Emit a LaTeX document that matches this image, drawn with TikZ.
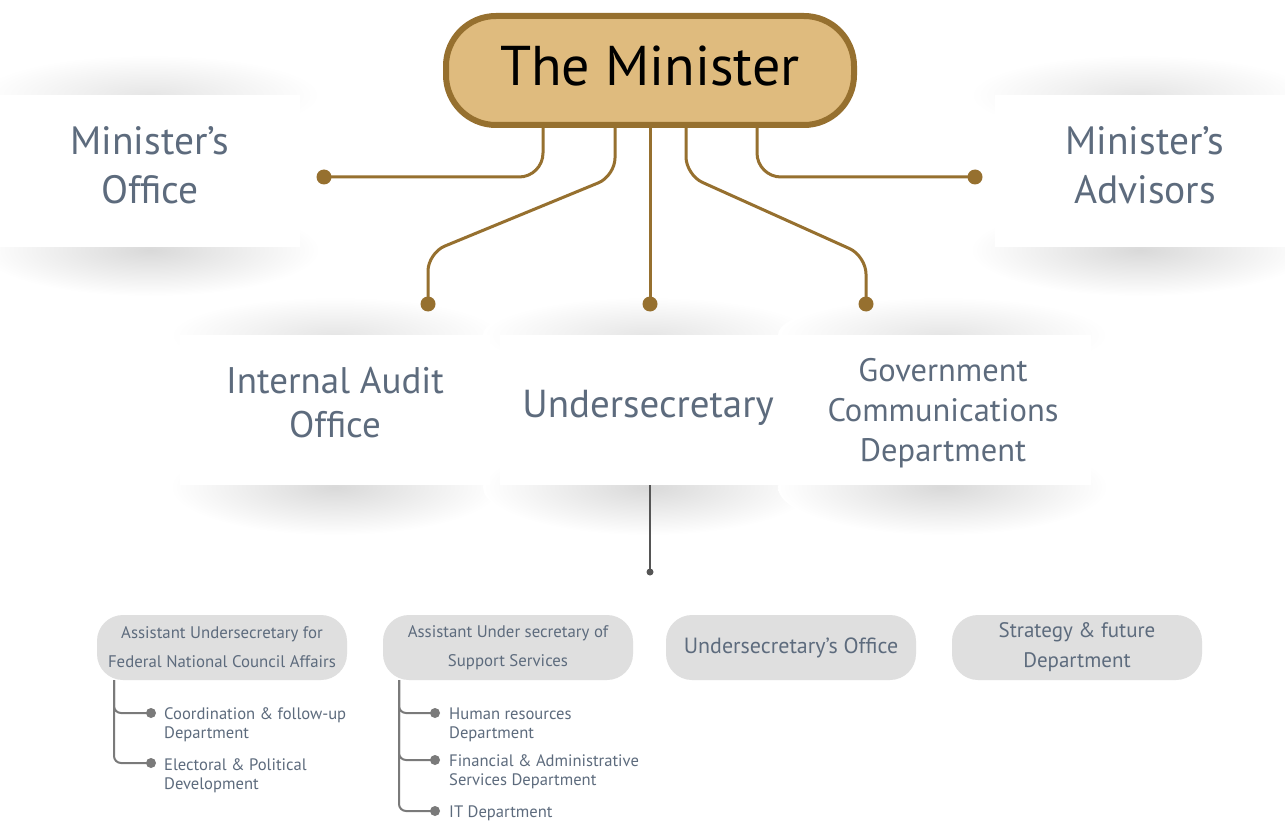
\documentclass[tikz,border=0pt]{standalone}
\usepackage{fontspec}
\setmainfont{PT Sans}
\definecolor{mbrown}{HTML}{96702F}
\definecolor{mtan}{HTML}{DFBB7E}
\definecolor{mtxt}{HTML}{5D6B7D}
\definecolor{mpill}{HTML}{DFDFDF}
\definecolor{mtree}{HTML}{7A7A7A}
\definecolor{mdark}{HTML}{555555}
\tikzset{
  topshade/.style={inner color=black!10, outer color=white},
  botshade/.style={inner color=black!15, outer color=white},
  card/.style={fill=white, inner sep=0pt, align=center, text=mtxt},
  cardtxt/.style={inner sep=0pt, align=center, text=mtxt},
  bigtxt/.style={font=\fontsize{39.5}{49}\selectfont},
  midtxt/.style={font=\fontsize{37}{44}\selectfont},
  undtxt/.style={font=\fontsize{39}{44}\selectfont},
  govtxt/.style={font=\fontsize{32.5}{40}\selectfont},
  pillbox/.style={fill=mpill, rounded corners=26pt, minimum width=250pt, minimum height=65pt, inner sep=0pt, align=center, text=mtxt},
  smalltxt/.style={font=\fontsize{16.8}{29}\selectfont},
  pilltxt/.style={font=\fontsize{22}{30}\selectfont},
  subtxt/.style={anchor=west, inner sep=0pt, align=left, text=mtxt, font=\fontsize{16.6}{19}\selectfont},
  bline/.style={draw=mbrown, line width=3pt},
  bdot/.style={circle, fill=mbrown, minimum size=15pt, inner sep=0pt},
  tline/.style={draw=mtree, line width=2pt, rounded corners=7pt},
  tdot/.style={circle, fill=mtree, minimum size=10pt, inner sep=0pt},
}
\begin{document}
\begin{tikzpicture}[x=1pt,y=-1pt]
\useasboundingbox (0,0) rectangle (1285,821);
\fill[white] (0,0) rectangle (1285,821);

% shadows of the top cards
\shade[topshade] (150,95) ellipse [x radius=170pt, y radius=40pt];
\shade[botshade] (150,250) ellipse [x radius=170pt, y radius=46pt];
\shade[topshade] (1140,95) ellipse [x radius=170pt, y radius=40pt];
\shade[botshade] (1140,250) ellipse [x radius=170pt, y radius=46pt];
% shadows of the middle cards
\foreach \cx in {335,648,943}{
  \shade[topshade] (\cx,335) ellipse [x radius=165pt, y radius=38pt];
  \shade[botshade] (\cx,487) ellipse [x radius=165pt, y radius=48pt];
}

% cards
\node[card, minimum width=300pt, minimum height=152pt] (moff) at (150,171) {};
\node[cardtxt, bigtxt] (mofft) at (150,165) {Minister’s\\Office};
\node[card, minimum width=300pt, minimum height=152pt] (madv) at (1145,171) {};
\node[cardtxt, bigtxt] (madvt) at (1145,165) {Minister’s\\Advisors};
\node[card, minimum width=310pt, minimum height=150pt] (audit) at (335,410) {};
\node[cardtxt, midtxt] (auditt) at (335,403) {Internal Audit\\Office};
\node[card, minimum width=296pt, minimum height=150pt] (under) at (648,410) {};
\node[cardtxt, undtxt] (undert) at (648,408) {Undersecretary};
\node[card, minimum width=296pt, minimum height=150pt] (gov) at (943,410) {};
\node[cardtxt, govtxt] (govt) at (943,413) {Government\\Communications\\Department};

% undersecretary connector
\node[circle, fill=mdark, minimum size=7pt, inner sep=0pt] (udot) at (650,572) {};
\draw[mdark, line width=2pt] (under.south -| udot) -- (udot.center);

% bottom pills
\node[pillbox, smalltxt] (p1) at (222,647.5) {Assistant Undersecretary for\\Federal National Council Affairs};
\node[pillbox, smalltxt] (p2) at (508,647.5) {Assistant Under secretary of\\Support Services};
\node[pillbox, pilltxt] (p3) at (791,647.5) {Undersecretary’s Office};
\node[pillbox, font=\fontsize{21}{30}\selectfont] (p4) at (1077,647.5) {Strategy \& future\\Department};

% trees
\coordinate (t1) at (114,680);
\coordinate (t2) at (399,680);
\node[tdot] (a1) at (151,713) {};
\node[tdot] (a2) at (151,763) {};
\node[tdot] (b1) at (435,713) {};
\node[tdot] (b2) at (435,760) {};
\node[tdot] (b3) at (435,811) {};
\draw[tline] (t1) |- (a1.center);
\draw[tline] (t1) |- (a2.center);
\draw[tline] (t2) |- (b1.center);
\draw[tline] (t2) |- (b2.center);
\draw[tline] (t2) |- (b3.center);
\node[subtxt] (a1t) at (164,725) {Coordination \& follow-up\\Department};
\node[subtxt] (a2t) at (164,776) {Electoral \& Political\\Development};
\node[subtxt] (b1t) at (449,725) {Human resources\\Department};
\node[subtxt] (b2t) at (449,772) {Financial \& Administrative\\Services Department};
\node[subtxt] (b3t) at (449,813) {IT Department};

% brown connectors
\coordinate (s1) at (543,125);
\coordinate (s2) at (615,125);
\coordinate (s3) at (650,125);
\coordinate (s4) at (686,125);
\coordinate (s5) at (757,125);
\node[bdot] (d1) at (324,177) {};
\node[bdot] (d2) at (428,304) {};
\node[bdot] (d3) at (650,304) {};
\node[bdot] (d4) at (866,304) {};
\node[bdot] (d5) at (975,177) {};
\draw[bline, rounded corners=24pt] (s1) |- (d1.center);
\draw[bline, rounded corners=24pt] (s5) |- (d5.center);
\draw[bline, rounded corners=18pt] (s2) -- (615,176) -- (428,253) -- (d2.center);
\draw[bline, rounded corners=18pt] (s4) -- (686,175) -- (866,256) -- (d4.center);
\draw[bline] (s3) -- (d3.center);

% the minister
\node[draw=mbrown, line width=6pt, fill=mtan, rounded corners=50pt, minimum width=408pt, minimum height=109pt, inner sep=0pt] (min) at (650,70.5) {};
\node[inner sep=0pt, font=\fontsize{56}{60}\selectfont] (mint) at (650,66) {The Minister};
\end{tikzpicture}
\end{document}
